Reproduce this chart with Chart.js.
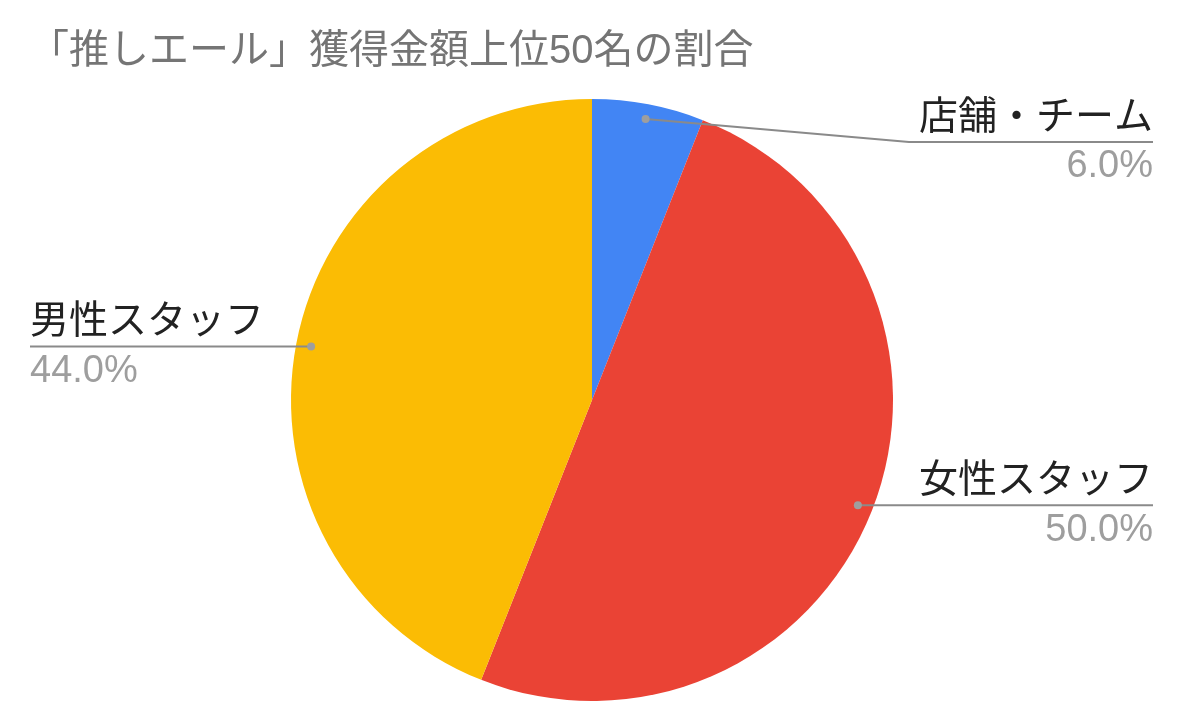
<!DOCTYPE html>
<html>
<head>
<meta charset="utf-8">
<script src="https://cdn.jsdelivr.net/npm/chart.js@4"></script>
<style>
    body { margin: 0; background: #fff; }
    #wrap { width: 1184px; height: 720px; position: relative; }
</style>
</head>
<body>
<div id="wrap"><canvas id="pieChart"></canvas></div>
<script>
const chartTitle = '「推しエール」獲得金額上位50名の割合';
const categories = ['店舗・チーム', '女性スタッフ', '男性スタッフ'];
const shares = [6.0, 50.0, 44.0];
const sliceColors = ['#4285F4', '#EA4335', '#FBBC04'];

const FONT = '"Liberation Sans", "Noto Sans CJK JP", sans-serif';
const EDGE_LEFT = 30;
const EDGE_RIGHT = 1153;
const LABEL_MIN_Y = 142;

// title + leader-line labels, Google Sheets style
const sheetLabels = {
    id: 'sheetLabels',
    afterDraw(chart) {
        const ctx = chart.ctx;
        ctx.save();
        ctx.fillStyle = '#757575';
        ctx.font = '40px ' + FONT;
        ctx.textAlign = 'left';
        ctx.textBaseline = 'middle';
        ctx.fillText(chartTitle, EDGE_LEFT - 1, 52);

        const meta = chart.getDatasetMeta(0);
        meta.data.forEach((arc, i) => {
            const p = arc.getProps(['x', 'y', 'startAngle', 'endAngle', 'outerRadius'], true);
            const mid = (p.startAngle + p.endAngle) / 2;
            const dx = p.x + Math.cos(mid) * p.outerRadius * 0.95;
            const dy = p.y + Math.sin(mid) * p.outerRadius * 0.95;
            const right = Math.cos(mid) > 0;
            const lineY = Math.max(dy, LABEL_MIN_Y);
            const label = chart.data.labels[i];
            const pct = chart.data.datasets[0].data[i].toFixed(1) + '%';

            ctx.font = '39px ' + FONT;
            const tw = ctx.measureText(label).width;
            let bendX;
            if (right) {
                bendX = Math.max(dx, EDGE_RIGHT - tw - 10);
            } else {
                bendX = Math.min(dx, EDGE_LEFT + tw + 10);
            }

            ctx.strokeStyle = '#8a8a8a';
            ctx.lineWidth = 2;
            ctx.beginPath();
            ctx.moveTo(dx, dy);
            if (Math.abs(lineY - dy) > 0.5) ctx.lineTo(bendX, lineY);
            ctx.lineTo(right ? EDGE_RIGHT : EDGE_LEFT, lineY);
            ctx.stroke();

            ctx.fillStyle = '#9e9e9e';
            ctx.beginPath();
            ctx.arc(dx, dy, 4, 0, Math.PI * 2);
            ctx.fill();

            ctx.textAlign = right ? 'right' : 'left';
            const tx = right ? EDGE_RIGHT : EDGE_LEFT;
            ctx.fillStyle = '#222222';
            ctx.font = '39px ' + FONT;
            ctx.fillText(label, tx, lineY - 24);
            ctx.fillStyle = '#9e9e9e';
            ctx.font = '38px ' + FONT;
            ctx.fillText(pct, tx, lineY + 25);
        });
        ctx.restore();
    }
};

new Chart(document.getElementById('pieChart'), {
    type: 'pie',
    data: {
        labels: categories,
        datasets: [{
            data: shares,
            backgroundColor: sliceColors,
            borderWidth: 0
        }]
    },
    options: {
        responsive: true,
        maintainAspectRatio: false,
        animation: false,
        layout: { padding: { top: 99, bottom: 19, left: 0, right: 0 } },
        plugins: {
            legend: { display: false },
            tooltip: { enabled: false },
            title: { display: false }
        }
    },
    plugins: [sheetLabels]
});
</script>
</body>
</html>
